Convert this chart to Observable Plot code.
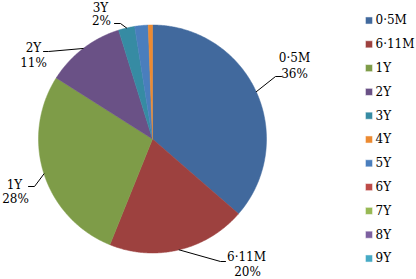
<!DOCTYPE html>
<html>
<head>
<meta charset="utf-8">
<script src="https://cdn.jsdelivr.net/npm/d3@7"></script>
<script src="https://cdn.jsdelivr.net/npm/@observablehq/plot@0.6"></script>
<style>
  html, body { margin: 0; padding: 0; background: #fff; }
  #chart svg { display: block; }
</style>
</head>
<body>
<div id="chart"></div>
<script>
// ---- data ----
const categories = ["0·5M", "6·11M", "1Y", "2Y", "3Y", "4Y", "5Y", "6Y", "7Y", "8Y", "9Y"];
const shares     = [36.4,   19.7,    27.9, 11.2, 2.3,  0.6,  1.9,  0,    0,    0,    0];
const colors     = ["#41699d", "#9d413f", "#7e9c48", "#6a5186", "#368ba3", "#ec8a31",
                    "#4a7ebd", "#be4b48", "#98b954", "#7d60a0", "#46aac5"];
// slice drawing order (clockwise from 12 o'clock), as seen in the picture
const sliceOrder = ["0·5M", "6·11M", "1Y", "2Y", "3Y", "5Y", "4Y"];
const labelled   = ["0·5M", "6·11M", "1Y", "2Y", "3Y"];

// ---- layout ----
const W = 416, H = 279;
const cx = 152, cy = 138.5, R = 114;
const font = "DejaVu Serif";
const labelLayout = {
  "0·5M":  {name: [294, 58],  pct: [294, 74],  leader: [[275, 76], [281, 76]]},
  "6·11M": {name: [246, 257], pct: [247, 271.5], leader: [[220, 261], [225, 261]]},
  "1Y":    {name: [14, 185],  pct: [15, 199],  leader: [[34, 186], [28, 186]]},
  "2Y":    {name: [33, 48],   pct: [33, 63],   leader: [[48, 51], [43, 51]]},
  "3Y":    {name: [100, 7.5], pct: [101, 21],  leader: [[120, 23], [114, 23]]}
};

// ---- geometry ----
let acc = 0;
const slices = sliceOrder.map(cat => {
  const v = shares[categories.indexOf(cat)];
  const a0 = acc / 100 * 2 * Math.PI;
  acc += v;
  const a1 = acc / 100 * 2 * Math.PI;
  return {cat, v, a0, a1};
});
const pts = [];
for (const s of slices) {
  pts.push({cat: s.cat, x: cx, y: cy});
  const n = Math.max(2, Math.ceil((s.a1 - s.a0) / (Math.PI / 360)));
  for (let i = 0; i <= n; i++) {
    const a = s.a0 + (s.a1 - s.a0) * i / n;
    pts.push({cat: s.cat, x: cx + R * Math.sin(a), y: cy - R * Math.cos(a)});
  }
  pts.push({cat: s.cat, x: cx, y: cy});
}

const leaderPts = [];
const nameLabels = [], pctLabels = [];
for (const cat of labelled) {
  const s = slices.find(d => d.cat === cat);
  const am = (s.a0 + s.a1) / 2;
  const L = labelLayout[cat];
  leaderPts.push({cat, x: cx + R * Math.sin(am), y: cy - R * Math.cos(am)});
  for (const p of L.leader) leaderPts.push({cat, x: p[0], y: p[1]});
  nameLabels.push({text: cat, x: L.name[0], y: L.name[1]});
  pctLabels.push({text: Math.round(s.v) + "%", x: L.pct[0], y: L.pct[1]});
}

const legendRows = categories.map((c, i) => ({cat: c, y: 20 + i * 23.8}));

const chart = Plot.plot({
  width: W,
  height: H,
  margin: 0,
  x: {domain: [0, W], range: [0, W], axis: null},
  y: {domain: [0, H], range: [0, H], axis: null},
  color: {type: "ordinal", domain: categories, range: colors},
  style: {background: "#fff"},
  marks: [
    Plot.line(pts, {x: "x", y: "y", z: "cat", fill: "cat", stroke: "cat", strokeWidth: 0.5, curve: "linear"}),
    Plot.line(leaderPts, {x: "x", y: "y", z: "cat", stroke: "#000", strokeWidth: 1, fill: "none", curve: "linear"}),
    Plot.text(nameLabels, {x: "x", y: "y", text: "text", fontFamily: font, fontSize: 12, fill: "#000", textAnchor: "middle"}),
    Plot.text(pctLabels, {x: "x", y: "y", text: "text", fontFamily: font, fontSize: 12, fill: "#000", textAnchor: "middle"}),
    Plot.dot(legendRows, {x: () => 368.5, y: "y", symbol: "square", r: 4, fill: "cat", stroke: "#fff", strokeWidth: 0.5}),
    Plot.text(legendRows, {x: () => 375, y: "y", text: "cat", fontFamily: font, fontSize: 12, fill: "#000", textAnchor: "start"})
  ]
});
document.getElementById("chart").appendChild(chart);
</script>
</body>
</html>
